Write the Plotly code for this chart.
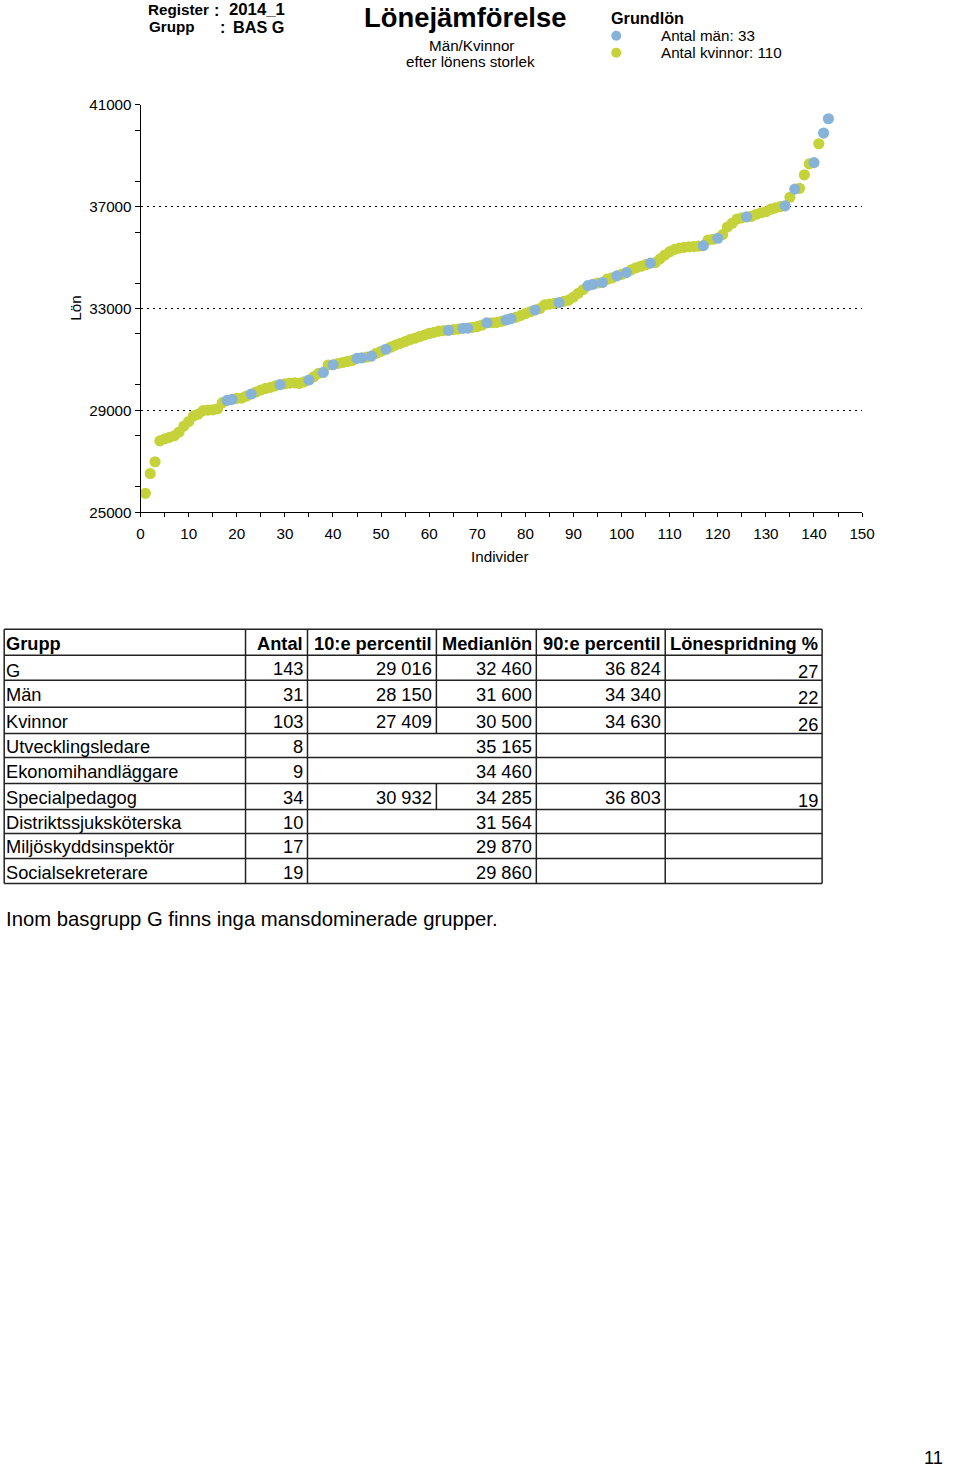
import plotly.graph_objects as go

W, H = 960, 1471

# measured mapping from figure pixels to the photographed page
SX, OX = 0.983, 3.3
SY, OY = 0.9875, 9.3
FS = 1 / ((SX + SY) / 2)  # font/marker size compensation


def px(x):
    return ((x - OX) / SX) / W


def py(y):
    return 1 - ((y - OY) / SY) / H


# ---------------- data ----------------
salary = [
    25740, 26520, 26980, 27800, 27880, 27940, 28000, 28150, 28380, 28560,
    28780, 28850, 28990, 29010, 29020, 29060, 29300, 29390, 29430, 29470,
    29480, 29560, 29640, 29720, 29800, 29860, 29900, 29960, 30010, 30040,
    30070, 30080, 30060, 30120, 30190, 30320, 30450, 30490, 30780, 30790,
    30840, 30880, 30920, 30960, 31040, 31060, 31090, 31130, 31240, 31320,
    31400, 31480, 31560, 31630, 31700, 31780, 31830, 31900, 31960, 32020,
    32060, 32110, 32130, 32140, 32170, 32190, 32220, 32230, 32260, 32290,
    32350, 32440, 32440, 32450, 32500, 32550, 32600, 32650, 32720, 32800,
    32870, 32940, 33000, 33140, 33170, 33200, 33230, 33280, 33330, 33450,
    33600, 33740, 33900, 33950, 34000, 34020, 34150, 34200, 34280, 34340,
    34410, 34520, 34600, 34660, 34720, 34780, 34800, 34950, 35100, 35230,
    35320, 35370, 35400, 35420, 35430, 35450, 35470, 35690, 35720, 35760,
    35900, 36200, 36350, 36510, 36560, 36600, 36620, 36700, 36760, 36800,
    36900, 36950, 37000, 37030, 37370, 37690, 37720, 38250, 38680, 38730,
    39470, 39890, 40450,
]
gender = [
    "K", "K", "K", "K", "K", "K", "K", "K", "K", "K",
    "K", "K", "K", "K", "K", "K", "K", "M", "M", "K",
    "K", "K", "M", "K", "K", "K", "K", "K", "M", "K",
    "K", "K", "K", "K", "M", "K", "K", "M", "K", "M",
    "K", "K", "K", "K", "M", "M", "K", "M", "K", "K",
    "M", "K", "K", "K", "K", "K", "K", "K", "K", "K",
    "K", "K", "K", "M", "K", "K", "M", "M", "K", "K",
    "K", "M", "K", "K", "K", "M", "M", "K", "K", "K",
    "K", "M", "K", "K", "K", "K", "M", "K", "K", "K",
    "K", "K", "M", "M", "K", "M", "K", "K", "M", "K",
    "M", "K", "K", "K", "K", "M", "K", "K", "K", "K",
    "K", "K", "K", "K", "K", "K", "M", "K", "K", "M",
    "K", "K", "K", "K", "K", "M", "K", "K", "K", "K",
    "K", "K", "K", "M", "K", "M", "K", "K", "K", "M",
    "K", "M", "M",
]
individ = list(range(1, len(salary) + 1))

legend_title = "Grundlön"
legend_men = "Antal män: 33"
legend_women = "Antal kvinnor: 110"

table_header = ["Grupp", "Antal", "10:e percentil", "Medianlön", "90:e percentil", "Lönespridning %"]
grupp = ["G", "Män", "Kvinnor", "Utvecklingsledare", "Ekonomihandläggare", "Specialpedagog",
         "Distriktssjuksköterska", "Miljöskyddsinspektör", "Socialsekreterare"]
antal = ["143", "31", "103", "8", "9", "34", "10", "17", "19"]
p10 = ["29 016", "28 150", "27 409", "", "", "30 932", "", "", ""]
median = ["32 460", "31 600", "30 500", "35 165", "34 460", "34 285", "31 564", "29 870", "29 860"]
p90 = ["36 824", "34 340", "34 630", "", "", "36 803", "", "", ""]
spridning = ["27", "22", "26", "", "", "19", "", "", ""]

note_text = "Inom basgrupp G finns inga mansdominerade grupper."
page_no = "11"

# ---------------- colours ----------------
BLUE = "#88B3D8"
YELLOW = "#C6D23A"

men_x = [i for i, g in zip(individ, gender) if g == "M"]
men_y = [s for s, g in zip(salary, gender) if g == "M"]
wom_x = [i for i, g in zip(individ, gender) if g == "K"]
wom_y = [s for s, g in zip(salary, gender) if g == "K"]

MS = 11 * FS
fig = go.Figure()
fig.add_trace(go.Scatter(x=wom_x, y=wom_y, mode="markers", name=legend_women,
                         marker=dict(color=YELLOW, size=MS, line=dict(width=0))))
fig.add_trace(go.Scatter(x=men_x, y=men_y, mode="markers", name=legend_men,
                         marker=dict(color=BLUE, size=MS, line=dict(width=0))))

FONT = "Liberation Sans, Arial, sans-serif"
TICKF = 15 * FS

fig.update_layout(
    width=W, height=H,
    margin=dict(l=0, r=0, t=0, b=0),
    paper_bgcolor="white", plot_bgcolor="white",
    font=dict(family=FONT, color="black", size=TICKF),
    showlegend=False,
    xaxis=dict(
        domain=[px(140), px(862)], range=[0, 150],
        dtick=10, tick0=0,
        showgrid=False, zeroline=False,
        showline=True, linecolor="black", linewidth=1,
        ticks="outside", ticklen=4, tickcolor="black",
        minor=dict(dtick=5, ticks="outside", ticklen=4, tickcolor="black", showgrid=False),
        tickfont=dict(size=TICKF, family=FONT),
        ticklabelstandoff=4,
        anchor="y",
    ),
    yaxis=dict(
        domain=[py(512), py(105)], range=[25000, 41000],
        dtick=4000, tick0=25000, tickformat="d",
        showgrid=True, gridcolor="black", gridwidth=1, griddash="2px,4px",
        zeroline=False,
        showline=True, linecolor="black", linewidth=1,
        ticks="outside", ticklen=5, tickcolor="black",
        minor=dict(dtick=2000, ticks="outside", ticklen=5, tickcolor="black", showgrid=False),
        tickfont=dict(size=TICKF, family=FONT),
        anchor="x",
    ),
)

ann = []


def text(x, y, s, size=15, bold=False, xanchor="left", angle=0, pad=1):
    ann.append(dict(
        x=px(x), y=py(y), xref="paper", yref="paper",
        text=f"<b>{s}</b>" if bold else s,
        showarrow=False, xanchor=xanchor, yanchor="middle",
        font=dict(size=size * FS, family=FONT, color="black"),
        textangle=angle, borderpad=pad,
    ))


shapes = []

# header
text(146, 10, "Register", 15, True, pad=0)
text(216, 10, ":", 16, True, "center", pad=0)
text(227, 10, "2014_1", 16.5, True, pad=0)
text(146, 27, "Grupp", 15, True)
text(222, 27, ":", 16, True, "center")
text(230, 27, "BAS G", 16, True)
text(465, 18, "Lönejämförelse", 27, True, "center", pad=0)
text(471, 46, "Män/Kvinnor", 15, False, "center")
text(470, 62, "efter lönens storlek", 15, False, "center")

# legend (drawn manually for exact placement)
text(609, 18, legend_title, 16, True)
text(659, 36, legend_men, 15)
text(659, 53, legend_women, 15)
for cy, col in ((36, BLUE), (53, YELLOW)):
    shapes.append(dict(type="circle", xref="paper", yref="paper",
                       x0=px(611), x1=px(621), y0=py(cy + 5), y1=py(cy - 5),
                       fillcolor=col, line=dict(width=0)))

# axis titles
text(75, 308, "Lön", 15, False, "center", -90)
text(500, 556, "Individer", 15, False, "center")

# ---------------- table ----------------
TL = 3.5
col_right = [245, 307, 436, 536, 665, 822]
row_lines = [629, 655, 680, 707, 733, 757, 783, 809, 833, 858, 883]
TFS = 18

hy = (row_lines[0] + row_lines[1]) / 2 + 1
text(4, hy, table_header[0], TFS, True, pad=0)
for j in range(1, 6):
    text(col_right[j] - 2, hy, table_header[j], TFS, True, "right")

for r in range(len(grupp)):
    cy = (row_lines[r + 1] + row_lines[r + 2]) / 2 + 1
    text(4, cy + (2 if r == 0 else 0), grupp[r], TFS, pad=0)
    vals = [antal[r], p10[r], median[r], p90[r]]
    for j, v in enumerate(vals, start=1):
        if v:
            text(col_right[j] - 2, cy, v, TFS, False, "right")
    if spridning[r]:
        text(col_right[5] - 2, cy + 3, spridning[r], TFS, False, "right")

text(4, 918, note_text, 20, pad=0)
text(944, 1456, page_no, TFS, False, "right", pad=0)

LC = "#222222"
LW = 1.5


def line(x0, y0, x1, y1):
    shapes.append(dict(type="line", xref="paper", yref="paper",
                       x0=px(x0), y0=py(y0), x1=px(x1), y1=py(y1),
                       line=dict(color=LC, width=LW)))


for yl in row_lines:
    line(TL, yl, col_right[-1], yl)
line(TL, row_lines[0], TL, row_lines[-1])
for j, xr in enumerate(col_right):
    if j == 2:
        line(xr, row_lines[0], xr, row_lines[4])
        line(xr, row_lines[6], xr, row_lines[7])
    else:
        line(xr, row_lines[0], xr, row_lines[-1])

fig.update_layout(annotations=ann, shapes=shapes)

fig.write_html("out.html")
